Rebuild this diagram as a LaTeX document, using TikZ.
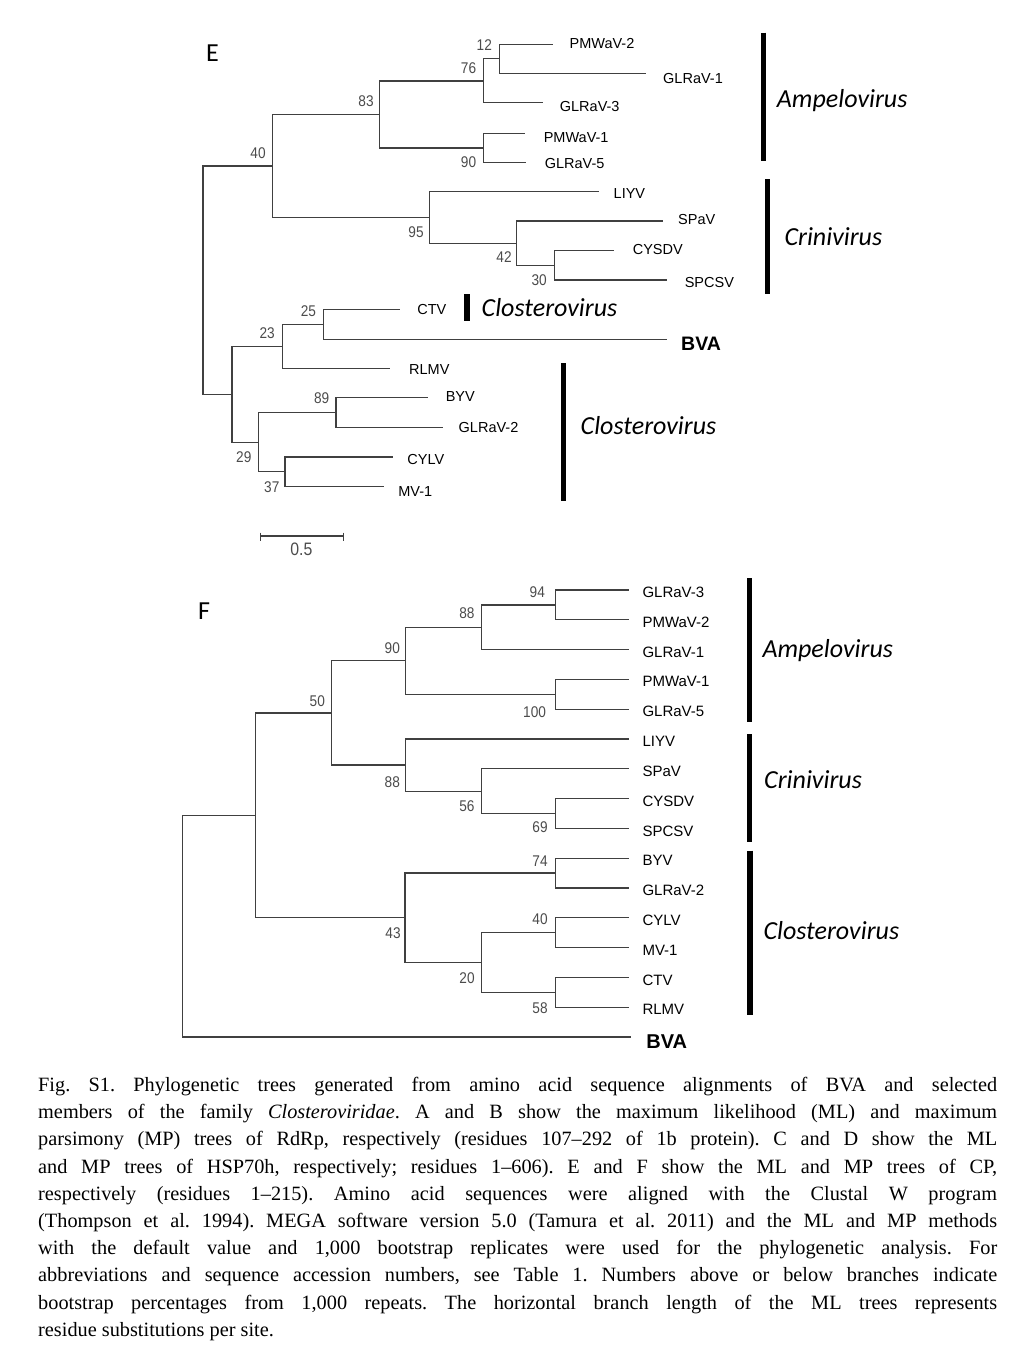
\documentclass[tikz,border=0pt]{standalone}
\usepackage{fontspec}
\setmainfont{Liberation Serif}
\newfontfamily\arialfont{Liberation Sans}
\newfontfamily\narrowfont[FakeStretch=0.88]{Liberation Sans}
\newfontfamily\calfont{Carlito}
\usetikzlibrary{positioning}

\newcommand\leaffont{\arialfont\fontsize{14.5}{16}\selectfont}
\newcommand\bootfont{\narrowfont\fontsize{15.5}{17}\selectfont}
\newcommand\genusfont{\calfont\itshape\fontsize{26}{30}\selectfont}

\tikzset{
  branch/.style={draw=black!75, line width=1.25pt},
  leaf/.style={font=\leaffont, inner sep=0pt, anchor=west},
  boot/.style={font=\bootfont, text=black!70, inner sep=0pt},
  genus/.style={font=\genusfont, inner sep=0pt, anchor=base west},
  genusbar/.style={line width=5.3pt},
  virus/.style={font=\arialfont\bfseries\fontsize{19.5}{22}\selectfont, inner sep=0pt, anchor=west},
  panel/.style={font=\calfont\fontsize{26}{30}\selectfont, inner sep=0pt, anchor=base west},
}

\begin{document}
\begin{tikzpicture}[x=1pt,y=-1pt]
\useasboundingbox[fill=white] (0,0) rectangle (1024,1365);

%%%%%%%%%%%% tree E (ML)
\node[panel] (labE) at (206,61.7) {E};
% internal nodes
\coordinate (eRoot) at (203,280);
\coordinate (e40) at (272.6,166);
\coordinate (e83) at (379.5,114.2);
\coordinate (e76) at (483.6,80.9);
\coordinate (e12) at (499.4,58.8);
\coordinate (e90) at (483.6,148);
\coordinate (e95) at (429.8,217.2);
\coordinate (e42) at (516.6,243.2);
\coordinate (e30) at (554.3,265.2);
\coordinate (eA) at (232,394.5);
\coordinate (e23) at (282.6,346.7);
\coordinate (e25) at (323.5,324.3);
\coordinate (e29) at (258.2,442.2);
\coordinate (e89) at (336.1,412.7);
\coordinate (e37) at (285.1,471.8);
% tips
\coordinate (eTPMWaV2) at (553.2,44.3);
\coordinate (eTGLRaV1) at (646,73.3);
\coordinate (eTGLRaV3) at (542.5,102.7);
\coordinate (eTPMWaV1) at (524.9,133.3);
\coordinate (eTGLRaV5) at (526.3,162.7);
\coordinate (eTLIYV) at (598.5,191.7);
\coordinate (eTSPaV) at (663,221);
\coordinate (eTCYSDV) at (614.3,250.3);
\coordinate (eTSPCSV) at (666.7,280);
\coordinate (eTCTV) at (400,309.3);
\coordinate (eTBVA) at (666.7,339.3);
\coordinate (eTRLMV) at (390,368.3);
\coordinate (eTBYV) at (427.6,397.7);
\coordinate (eTGLRaV2) at (443.4,427.7);
\coordinate (eTCYLV) at (392.8,457);
\coordinate (eTMV1) at (383.8,486.7);

\draw[branch] (eRoot) |- (e40);
\draw[branch] (eRoot) |- (eA);
\draw[branch] (e40) |- (e83);
\draw[branch] (e40) |- (e95);
\draw[branch] (e83) |- (e76);
\draw[branch] (e83) |- (e90);
\draw[branch] (e76) |- (e12);
\draw[branch] (e76) |- (eTGLRaV3);
\draw[branch] (e12) |- (eTPMWaV2);
\draw[branch] (e12) |- (eTGLRaV1);
\draw[branch] (e90) |- (eTPMWaV1);
\draw[branch] (e90) |- (eTGLRaV5);
\draw[branch] (e95) |- (eTLIYV);
\draw[branch] (e95) |- (e42);
\draw[branch] (e42) |- (eTSPaV);
\draw[branch] (e42) |- (e30);
\draw[branch] (e30) |- (eTCYSDV);
\draw[branch] (e30) |- (eTSPCSV);
\draw[branch] (eA) |- (e23);
\draw[branch] (eA) |- (e29);
\draw[branch] (e23) |- (e25);
\draw[branch] (e23) |- (eTRLMV);
\draw[branch] (e25) |- (eTCTV);
\draw[branch] (e25) |- (eTBVA);
\draw[branch] (e29) |- (e89);
\draw[branch] (e29) |- (e37);
\draw[branch] (e89) |- (eTBYV);
\draw[branch] (e89) |- (eTGLRaV2);
\draw[branch] (e37) |- (eTCYLV);
\draw[branch] (e37) |- (eTMV1);

% leaf names
\node[leaf] (eLPMWaV2) at (569.4,44) {PMWaV-2};
\node[leaf] (eLGLRaV1) at (663,78.5) {GLRaV-1};
\node[leaf] (eLGLRaV3) at (559.7,106.7) {GLRaV-3};
\node[leaf] (eLPMWaV1) at (543.6,137.7) {PMWaV-1};
\node[leaf] (eLGLRaV5) at (544.6,164) {GLRaV-5};
\node[leaf] (eLLIYV) at (613.5,193.3) {LIYV};
\node[leaf] (eLSPaV) at (678,219.3) {SPaV};
\node[leaf] (eLCYSDV) at (632.6,250) {CYSDV};
\node[leaf] (eLSPCSV) at (684.6,282.7) {SPCSV};
\node[leaf] (eLCTV) at (417.2,309.3) {CTV};
\node[virus] (eLBVA) at (681,343.3) {BVA};
\node[leaf] (eLRLMV) at (409,370) {RLMV};
\node[leaf] (eLBYV) at (445.6,396.7) {BYV};
\node[leaf] (eLGLRaV2) at (458.5,427.3) {GLRaV-2};
\node[leaf] (eLCYLV) at (407.2,460) {CYLV};
\node[leaf] (eLMV1) at (398.2,491.7) {MV-1};

% bootstrap values
\node[boot] (eB12) at (484.3,45) {12};
\node[boot] (eB76) at (468.5,67.7) {76};
\node[boot] (eB83) at (366,100.7) {83};
\node[boot] (eB40) at (258,153) {40};
\node[boot] (eB90) at (468.5,162) {90};
\node[boot] (eB95) at (416,232) {95};
\node[boot] (eB42) at (504,257.3) {42};
\node[boot] (eB30) at (539.2,280) {30};
\node[boot] (eB25) at (308.4,311) {25};
\node[boot] (eB23) at (267.2,332.7) {23};
\node[boot] (eB89) at (321.7,398.3) {89};
\node[boot] (eB29) at (243.8,456.7) {29};
\node[boot] (eB37) at (271.8,486.7) {37};

% scale bar
\draw[branch] (260.7,532.7) -- ++(0,8) (260.7,536) -- (343.6,536) (343.6,532.7) -- ++(0,8);
\node[boot, font=\narrowfont\fontsize{18}{20}\selectfont] (eScale) at (301.3,549.3) {0.5};

% genera
\draw[genusbar] (763.3,32.7) -- (763.3,160.7);
\node[genus] (eAmpelo) at (776.7,107.3) {Ampelovirus};
\draw[genusbar] (767.8,179.3) -- (767.8,294.3);
\node[genus] (eCrini) at (784.3,245) {Crinivirus};
\draw[genusbar] (467.1,294) -- (467.1,321);
\node[genus] (eClostA) at (481.5,316) {Closterovirus};
\draw[genusbar] (563.3,363.3) -- (563.3,501);
\node[genus] (eClostB) at (580.5,434) {Closterovirus};

%%%%%%%%%%%% tree F (MP)
\node[panel] (labF) at (198,619.3) {F};
\coordinate (fRoot) at (182.7,926.2);
\coordinate (fA) at (255.4,815.4);
\coordinate (f50) at (331.5,712.9);
\coordinate (f90) at (405.8,660.8);
\coordinate (f88a) at (481.5,627.25);
\coordinate (f94) at (555.4,604.9);
\coordinate (f100) at (555.4,694.3);
\coordinate (f88b) at (405.8,765.1);
\coordinate (f56) at (481.5,791.15);
\coordinate (f69) at (555.4,813.5);
\coordinate (f43) at (405,917.8);
\coordinate (f74) at (555.4,873.1);
\coordinate (f20) at (481.5,962.5);
\coordinate (f40) at (555.4,932.7);
\coordinate (f58) at (555.4,992.3);
\coordinate (fTBVA) at (630.8,1037);

\foreach \name [count=\i from 0] in {GLRaV-3,PMWaV-2,GLRaV-1,PMWaV-1,GLRaV-5,LIYV,SPaV,CYSDV,SPCSV,BYV,GLRaV-2,CYLV,MV-1,CTV,RLMV}{
  \coordinate (fT\i) at (628.5,{590+29.8*\i});
  \node[leaf, font=\arialfont\fontsize{15}{17}\selectfont] (fL\i) at (642.3,{592.5+29.8*\i}) {\name};
}
\node[virus, font=\arialfont\bfseries\fontsize{20}{22}\selectfont] (fLBVA) at (646.2,1041.7) {BVA};

\draw[branch] (fRoot) |- (fA);
\draw[branch] (fRoot) |- (fTBVA);
\draw[branch] (fA) |- (f50);
\draw[branch] (fA) |- (f43);
\draw[branch] (f50) |- (f90);
\draw[branch] (f50) |- (f88b);
\draw[branch] (f90) |- (f88a);
\draw[branch] (f90) |- (f100);
\draw[branch] (f88a) |- (f94);
\draw[branch] (f88a) |- (fT2);
\draw[branch] (f94) |- (fT0);
\draw[branch] (f94) |- (fT1);
\draw[branch] (f100) |- (fT3);
\draw[branch] (f100) |- (fT4);
\draw[branch] (f88b) |- (fT5);
\draw[branch] (f88b) |- (f56);
\draw[branch] (f56) |- (fT6);
\draw[branch] (f56) |- (f69);
\draw[branch] (f69) |- (fT7);
\draw[branch] (f69) |- (fT8);
\draw[branch] (f43) |- (f74);
\draw[branch] (f43) |- (f20);
\draw[branch] (f74) |- (fT9);
\draw[branch] (f74) |- (fT10);
\draw[branch] (f20) |- (f40);
\draw[branch] (f20) |- (f58);
\draw[branch] (f40) |- (fT11);
\draw[branch] (f40) |- (fT12);
\draw[branch] (f58) |- (fT13);
\draw[branch] (f58) |- (fT14);

\node[boot] (fB94) at (537.3,591.7) {94};
\node[boot] (fB88a) at (466.9,613.3) {88};
\node[boot] (fB90) at (392.3,647.7) {90};
\node[boot] (fB100) at (534.6,711.7) {100};
\node[boot] (fB50) at (317.3,700.7) {50};
\node[boot] (fB88b) at (392.3,781.7) {88};
\node[boot] (fB56) at (466.9,806) {56};
\node[boot] (fB69) at (540,827.3) {69};
\node[boot] (fB74) at (540,860.7) {74};
\node[boot] (fB43) at (393,933.3) {43};
\node[boot] (fB40) at (540,919.3) {40};
\node[boot] (fB20) at (467,978.3) {20};
\node[boot] (fB58) at (540,1007.7) {58};

\draw[genusbar] (749.3,578.3) -- (749.3,722.3);
\node[genus] (fAmpelo) at (762.3,657.3) {Ampelovirus};
\draw[genusbar] (749.3,734.3) -- (749.3,841.7);
\node[genus] (fCrini) at (764,788.3) {Crinivirus};
\draw[genusbar] (750,850.7) -- (750,1015);
\node[genus] (fClost) at (763.3,939.3) {Closterovirus};

%%%%%%%%%%%% caption
\node[anchor=north west, inner sep=0pt, text width=959pt, align=justify,
      font=\fontsize{20.3}{27.2}\selectfont\frenchspacing] (caption) at (38,1077)
 {Fig. S1. Phylogenetic trees generated from amino acid sequence alignments of BVA and selected\linebreak
  members of the family \textit{Closteroviridae}. A and B show the maximum likelihood (ML) and maximum\linebreak
  parsimony (MP) trees of RdRp, respectively (residues 107–292 of 1b protein). C and D show the ML\linebreak
  and MP trees of HSP70h, respectively; residues 1–606). E and F show the ML and MP trees of CP,\linebreak
  respectively (residues 1–215). Amino acid sequences were aligned with the Clustal W program\linebreak
  (Thompson et al. 1994). MEGA software version 5.0 (Tamura et al. 2011) and the ML and MP methods\linebreak
  with the default value and 1,000 bootstrap replicates were used for the phylogenetic analysis. For\linebreak
  abbreviations and sequence accession numbers, see Table 1. Numbers above or below branches indicate\linebreak
  bootstrap percentages from 1,000 repeats. The horizontal branch length of the ML trees represents\linebreak
  residue substitutions per site.};
\end{tikzpicture}
\end{document}
